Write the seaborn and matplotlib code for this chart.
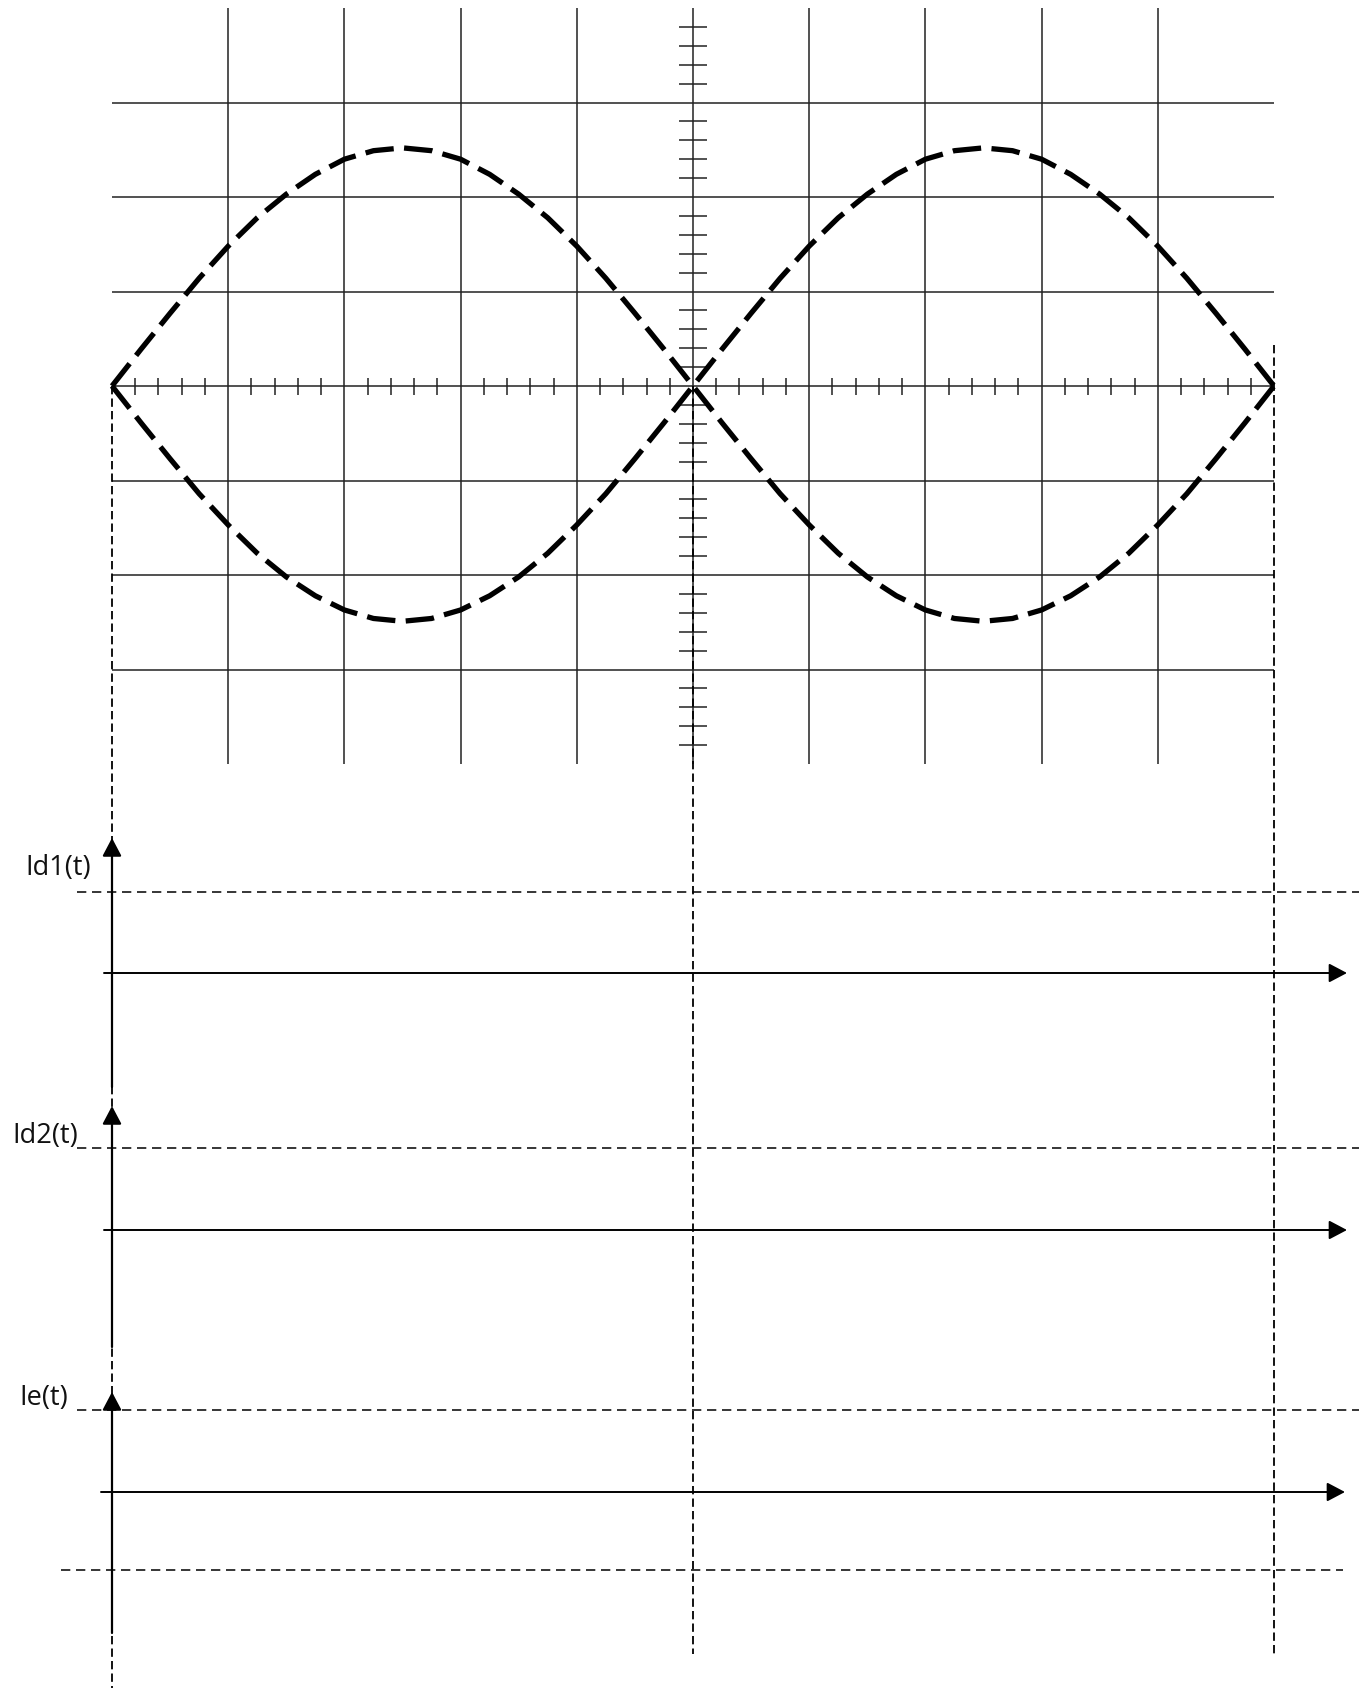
import matplotlib
matplotlib.use("Agg")
import matplotlib.pyplot as plt
from matplotlib.collections import LineCollection
import seaborn as sns

# Scope trace sampled every quarter division (horizontal divisions)
t_div = [-5.0, -4.75, -4.5, -4.25, -4.0, -3.75, -3.5, -3.25, -3.0, -2.75,
         -2.5, -2.25, -2.0, -1.75, -1.5, -1.25, -1.0, -0.75, -0.5, -0.25,
         0.0, 0.25, 0.5, 0.75, 1.0, 1.25, 1.5, 1.75, 2.0, 2.25,
         2.5, 2.75, 3.0, 3.25, 3.5, 3.75, 4.0, 4.25, 4.5, 4.75, 5.0]
# Trace starting positive (vertical divisions)
v_a = [0.0, 0.39, 0.77, 1.14, 1.48, 1.78, 2.03, 2.24, 2.40, 2.49,
       2.52, 2.49, 2.40, 2.24, 2.03, 1.78, 1.48, 1.14, 0.77, 0.39,
       0.0, -0.39, -0.77, -1.14, -1.47, -1.77, -2.02, -2.22, -2.37, -2.46,
       -2.49, -2.46, -2.37, -2.22, -2.02, -1.77, -1.47, -1.14, -0.77, -0.39, 0.0]
# Trace starting negative (vertical divisions)
v_b = [0.0, -0.39, -0.77, -1.14, -1.47, -1.77, -2.02, -2.22, -2.37, -2.46,
       -2.49, -2.46, -2.37, -2.22, -2.02, -1.77, -1.47, -1.14, -0.77, -0.39,
       0.0, 0.39, 0.77, 1.14, 1.48, 1.78, 2.03, 2.24, 2.40, 2.49,
       2.52, 2.49, 2.40, 2.24, 2.03, 1.78, 1.48, 1.14, 0.77, 0.39, 0.0]
panel_labels = ["Id1(t)", "Id2(t)", "Ie(t)"]

sns.set_theme(style="white")
plt.rcParams["font.family"] = ["Open Sans", "DejaVu Sans"]
plt.rcParams["lines.scale_dashes"] = False

W, H = 1370, 1688
CX, CY = 693.0, 386.0          # screen centre in pixels
DX, DY = 116.2, 94.5           # pixels per division

fig = plt.figure(figsize=(W / 100, H / 100), dpi=100)
fig.patch.set_facecolor("white")
ax = fig.add_axes([0, 0, 1, 1])
ax.set_xlim(-CX / DX, (W - CX) / DX)
ax.set_ylim((CY - H) / DY, CY / DY)
ax.axis("off")

def py(p):
    """pixel row -> vertical divisions"""
    return (CY - p) / DY

def px(p):
    """pixel column -> horizontal divisions"""
    return (p - CX) / DX

# ---- graticule -------------------------------------------------------
grid_col = "#222222"
segs = [[(gx, -4), (gx, 4)] for gx in range(-4, 5)]
segs += [[(-5, gy), (5, gy)] for gy in range(-3, 4)]
ax.add_collection(LineCollection(segs, colors=grid_col, linewidths=1.1, zorder=1))

# minor ticks on the centre axes (0.2 division)
tick_segs = []
for k in range(-24, 25):
    if k % 5:
        x = k * 0.2
        tick_segs.append([(x, -8.5 / DY), (x, 8.5 / DY)])
for k in range(-19, 20):
    if k % 5:
        y = k * 0.2
        tick_segs.append([(-14 / DX, y), (14 / DX, y)])
ax.add_collection(LineCollection(tick_segs, colors=grid_col, linewidths=1.1, zorder=1))

# ---- traces ----------------------------------------------------------
trace_kw = dict(color="black", linewidth=3.8, linestyle=(0, (20.5, 7.5)), ax=ax,
                legend=False, zorder=4)
sns.lineplot(x=t_div, y=v_a, **trace_kw)
sns.lineplot(x=t_div, y=v_b, **trace_kw)

# ---- projection lines -------------------------------------------------
proj_ls = (0, (6.0, 3.0))
ax.plot([-5, -5], [0, py(H)], color="black", lw=1.3, ls=proj_ls, zorder=3)
ax.plot([0, 0], [0, py(1654)], color="black", lw=1.3, ls=proj_ls, zorder=3)
ax.plot([5, 5], [py(345), py(1654)], color="black", lw=1.3, ls=proj_ls, zorder=3)

# ---- current panels --------------------------------------------------
level_ls = (0, (6.7, 4.1))
panels = [
    dict(tip=838, bottom=1087, label_x=25, label_y=868, level=[892], axis=973,
         ax_start=104, ax_end=1347),
    dict(tip=1106, bottom=1347, label_x=12, label_y=1136, level=[1148], axis=1230,
         ax_start=104, ax_end=1347),
    dict(tip=1392, bottom=1633, label_x=19, label_y=1398, level=[1410], axis=1492,
         ax_start=101, ax_end=1345),
]
head = "-|>,head_length=0.55,head_width=0.29"
for lab, p in zip(panel_labels, panels):
    # vertical (current) axis
    ax.annotate("", xy=(-5, py(p["tip"])), xytext=(-5, py(p["bottom"])),
                arrowprops=dict(arrowstyle=head, mutation_scale=20, lw=1.6,
                                color="black", shrinkA=0, shrinkB=0), zorder=5)
    # time axis
    ax.annotate("", xy=(px(p["ax_end"]), py(p["axis"])),
                xytext=(px(p["ax_start"]), py(p["axis"])),
                arrowprops=dict(arrowstyle=head, mutation_scale=20, lw=1.4,
                                color="black", shrinkA=0, shrinkB=0), zorder=5)
    for lv in p["level"]:
        ax.plot([px(77), px(1359)], [py(lv), py(lv)], color="black", lw=1.1,
                ls=level_ls, zorder=3)
    ax.text(px(p["label_x"]), py(p["label_y"]), lab, ha="left", va="center",
            fontsize=19.5, color="#111111")

# lower reference level of the last panel
ax.plot([px(61), px(1343)], [py(1570), py(1570)], color="black", lw=1.1,
        ls=level_ls, zorder=3)

fig.savefig("out.png", dpi=100, facecolor="white")
